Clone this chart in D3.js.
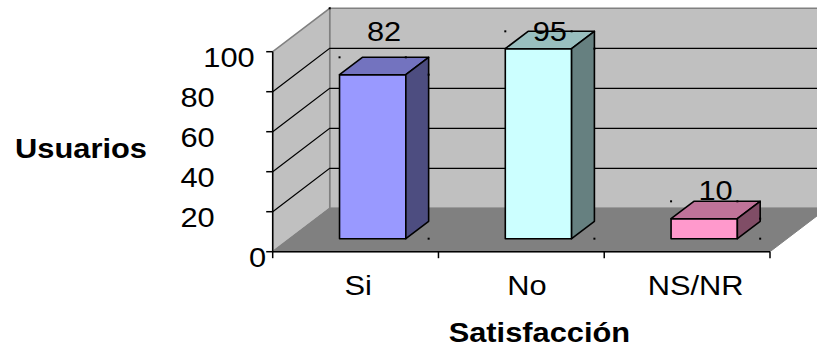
<!DOCTYPE html>
<html>
<head>
<meta charset="utf-8">
<script src="https://cdn.jsdelivr.net/npm/d3@7"></script>
<style>
  html, body { margin: 0; padding: 0; background: #fff; }
  svg { display: block; }
  text { font-family: "Liberation Sans", Arial, sans-serif; fill: #000; }
</style>
</head>
<body>
<svg id="chart" width="817" height="347"></svg>
<script>
// Survey results: user satisfaction
const categories = ["Si", "No", "NS/NR"];
const values = [82, 95, 10];
const yTicks = [0, 20, 40, 60, 80, 100];
const barColors = ["#9999ff", "#ccffff", "#ff99cc"];
const yTitle = "Usuarios";
const xTitle = "Satisfacción";

const svg = d3.select("#chart");

// front plane of the 3D box
const x0 = 272.7, x1 = 770;
const DX = 57, DY = 43.4;          // depth offset of the back wall
const d0 = 0.3, d1 = 0.7;           // bar position in depth
const FS = 28, STRETCH = 1.1;       // glyphs are drawn slightly wide

const x = d3.scaleBand().domain(categories).range([x0, x1])
  .paddingInner(0.6).paddingOuter(0.3);
const y = d3.scaleLinear().domain([0, 100]).range([251.7, 51.7]);
const step = x.step();

const P = (px, py, d) => [px + d * DX, py - d * DY];
const poly = pts => pts.map(p => p.join(",")).join(" ");

const yMin = y(0), yMax = y(100);

// back wall
svg.append("polygon")
  .attr("points", poly([P(x0, yMax, 1), P(x1, yMax, 1), P(x1, yMin, 1), P(x0, yMin, 1)]))
  .attr("fill", "#c0c0c0").attr("stroke", "#808080").attr("stroke-width", 1.5);
// side wall
svg.append("polygon")
  .attr("points", poly([P(x0, yMin, 0), P(x0, yMax, 0), P(x0, yMax, 1), P(x0, yMin, 1)]))
  .attr("fill", "#c0c0c0").attr("stroke", "#808080").attr("stroke-width", 1.5);
// floor
svg.append("polygon")
  .attr("points", poly([P(x0, yMin, 0), P(x0, yMin, 1), P(x1, yMin, 1), P(x1, yMin, 0)]))
  .attr("fill", "#808080").attr("stroke", "#808080").attr("stroke-width", 1);

// gridlines across side wall and back wall
svg.append("g").selectAll("polyline")
  .data(yTicks.filter(t => t > 0 && t < 100))
  .join("polyline")
  .attr("points", t => poly([P(x0, y(t), 0), P(x0, y(t), 1), P(x1, y(t), 1)]))
  .attr("fill", "none").attr("stroke", "#000").attr("stroke-width", 1.2);

// bars
const shade = (c, k) => { const r = d3.rgb(c); return d3.rgb(r.r * k, r.g * k, r.b * k).formatHex(); };
const bars = svg.append("g");
categories.forEach((c, i) => {
  const v = values[i];
  const xl = x(c), xr = x(c) + x.bandwidth();
  const yt = y(v), yb = y(0);
  const g = bars.append("g").attr("stroke", "#000").attr("stroke-width", 1.6).attr("stroke-linejoin", "round");
  // front face
  g.append("polygon")
    .attr("points", poly([P(xl, yt, d0), P(xr, yt, d0), P(xr, yb, d0), P(xl, yb, d0)]))
    .attr("fill", barColors[i]);
  // top face
  g.append("polygon")
    .attr("points", poly([P(xl, yt, d0), P(xl, yt, d1), P(xr, yt, d1), P(xr, yt, d0)]))
    .attr("fill", shade(barColors[i], 0.75));
  // right side face
  g.append("polygon")
    .attr("points", poly([P(xr, yt, d0), P(xr, yt, d1), P(xr, yb, d1), P(xr, yb, d0)]))
    .attr("fill", shade(barColors[i], 0.5));
});

// axes
const axes = svg.append("g").attr("stroke", "#000").attr("stroke-width", 1.5);
axes.append("line").attr("x1", x0).attr("x2", x0).attr("y1", yMax).attr("y2", yMin);
axes.append("line").attr("x1", x0).attr("x2", x1).attr("y1", yMin).attr("y2", yMin);
axes.selectAll(".yt").data(yTicks).join("line").attr("class", "yt")
  .attr("x1", x0 - 6.5).attr("x2", x0).attr("y1", t => y(t)).attr("y2", t => y(t));
const bounds = d3.range(categories.length + 1).map(k => x0 + k * step);
axes.selectAll(".xt").data(bounds).join("line").attr("class", "xt")
  .attr("x1", b => b).attr("x2", b => b).attr("y1", yMin).attr("y2", yMin + 6.5);

// text helper: wide glyphs anchored at (tx, ty)
function label(tx, ty, s, anchor, bold) {
  return svg.append("text")
    .attr("transform", `translate(${tx},${ty}) scale(${STRETCH},1)`)
    .attr("text-anchor", anchor)
    .attr("font-size", FS)
    .attr("font-weight", bold ? "bold" : "normal")
    .text(s);
}

// y tick labels: the end ticks sit close to the axis, inner ones further out
yTicks.forEach(t => {
  const gap = t === 0 ? 6.5 : (t === 100 ? 18 : 58);
  label(x0 - gap, y(t) + 15, String(t), "end", false);
});

// category labels, centred under each band
categories.forEach((c, i) => label(x(c) + x.bandwidth() / 2 + 2.5 + 3 * i, yMin + 43.3, c, "middle", false));

// value labels above each bar top, kept inside the frame
const labelTop = yMax - DY + 32.4;
categories.forEach((c, i) => {
  const v = values[i];
  const [cx] = P(x(c) + x.bandwidth() / 2, 0, (d0 + d1) / 2);
  const [, backTop] = P(0, y(v), d1);
  const pad = 1.3 + (v - 10) * 0.226;
  label(cx, Math.max(labelTop, backTop - pad), String(v), "middle", false);
});

// axis titles
label(81, 158.3, yTitle, "middle", true);
label((x0 + x1) / 2 + 18, 342, xTitle, "middle", true);

// corner markers around each bar
const dots = [P(x0, yMax, 1)];
categories.forEach((c, i) => {
  const xl = x(c), xr = x(c) + x.bandwidth();
  const ft = P(xr, y(values[i]), d1);
  const bt = P(xl, y(values[i]), d1)[1];
  dots.push([P(xl, 0, d0)[0], bt]);
  dots.push([P(xr, 0, d0)[0], bt]);
  dots.push([ft[0], P(0, y(values[i]), d0)[1]]);
  dots.push([ft[0], P(0, y(0), d0)[1]]);
});
svg.append("g").selectAll("rect").data(dots).join("rect")
  .attr("x", d => d[0] - 1).attr("y", d => d[1] - 1)
  .attr("width", 2).attr("height", 2).attr("fill", "#000");
</script>
</body>
</html>
